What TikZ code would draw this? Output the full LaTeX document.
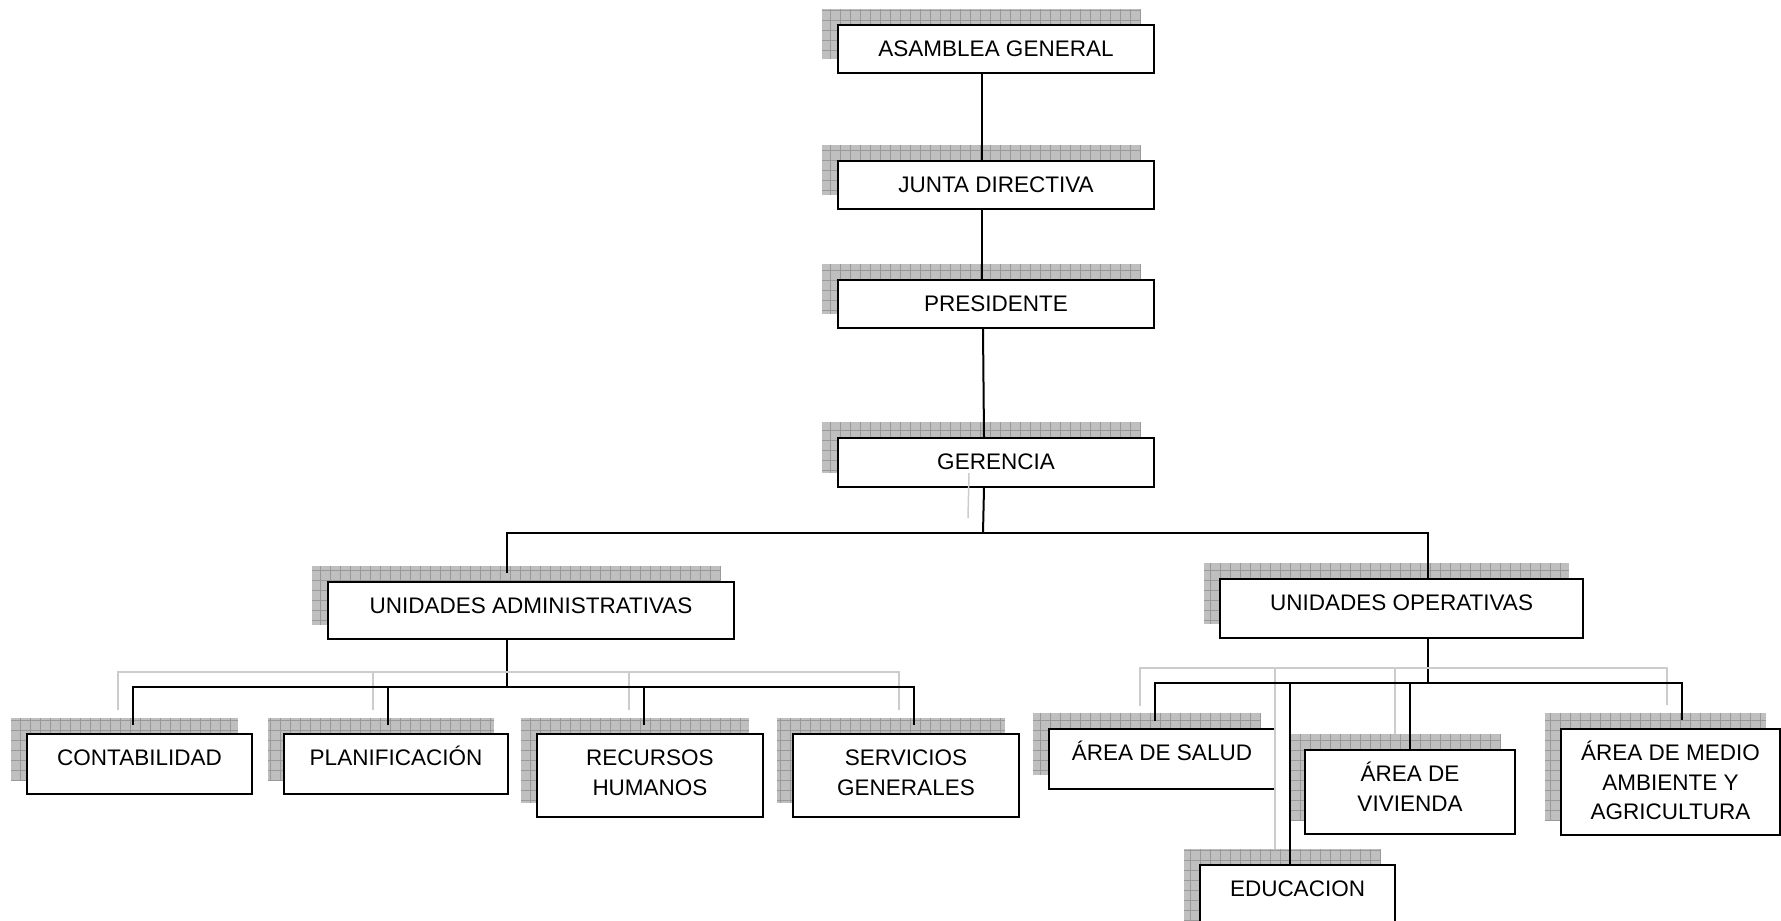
\documentclass[tikz,border=0pt]{standalone}
\usepackage{fontspec}
\setmainfont{Liberation Sans}
\usetikzlibrary{calc}
\pgfdeclarelayer{background}
\pgfsetlayers{background,main}

\tikzset{
	caja/.style={draw, fill=white, line width=2pt, anchor=north west, inner sep=0pt,
		align=center, text height=31.5pt, font=\fontsize{22.5pt}{29.5pt}\selectfont},
	dos lineas/.style={text height=61pt},
	tres lineas/.style={text height=90.5pt},
	linea/.style={line width=2pt},
	sombra/.style={fill=gray!50},
	rejilla/.style={gray!80, line width=0.7pt, step=10pt},
	lineagris/.style={gray!40, line width=1.5pt, transform canvas={shift={(-15pt,15pt)}}}
}

\begin{document}
\begin{tikzpicture}[x=1pt, y=-1pt]
	\useasboundingbox (0,0) rectangle (1781,921);

	% direccion
	\node[caja, minimum width=316pt, text depth=16.5pt] (asamblea) at (837,24) {ASAMBLEA GENERAL};
	\node[caja, minimum width=316pt, text depth=16.5pt] (junta) at (837,160) {JUNTA DIRECTIVA};
	\node[caja, minimum width=316pt, text depth=16.5pt] (presidente) at (837,279) {PRESIDENTE};
	\node[caja, minimum width=316pt, text depth=17.5pt] (gerencia) at (837,437) {GERENCIA};

	% unidades
	\node[caja, minimum width=406pt, text depth=25.5pt] (admin) at (327,581) {UNIDADES ADMINISTRATIVAS};
	\node[caja, minimum width=363pt, text depth=27.5pt] (oper) at (1219,578) {UNIDADES OPERATIVAS};

	\node[caja, minimum width=225pt, text depth=28.5pt] (contab) at (26,733) {CONTABILIDAD};
	\node[caja, minimum width=224pt, text depth=28.5pt] (planif) at (283,733) {PLANIFICACIÓN};
	\node[caja, dos lineas, minimum width=226pt, text depth=22pt] (recursos) at (536,733) {RECURSOS\\HUMANOS};
	\node[caja, dos lineas, minimum width=226pt, text depth=22pt] (servicios) at (792,733) {SERVICIOS\\GENERALES};

	\node[caja, minimum width=226pt, text depth=28.5pt] (salud) at (1048,728) {ÁREA DE SALUD};
	\node[caja, dos lineas, minimum width=210pt, text depth=23pt] (vivienda) at (1304,749) {ÁREA DE\\VIVIENDA};
	\node[caja, tres lineas, minimum width=219pt, text depth=15.5pt] (medio) at (1560,728) {ÁREA DE MEDIO\\AMBIENTE Y\\AGRICULTURA};
	\node[caja, minimum width=195pt, text depth=48.5pt] (educacion) at (1199,864) {EDUCACION};

	% sombras
	\begin{pgfonlayer}{background}
		\foreach \n in {asamblea,junta,presidente,gerencia,admin,oper,contab,planif,recursos,servicios,salud,vivienda,medio,educacion}{
			\fill[sombra] ([shift={(-15pt,15pt)}]\n.north west) rectangle ([shift={(-15pt,15pt)}]\n.south east);
			\draw[rejilla] ([shift={(-15pt,15pt)}]\n.north west) grid ([shift={(-15pt,15pt)}]\n.south east);
		}
	\end{pgfonlayer}

	\draw[linea] ([xshift=-14pt]asamblea.south) -- ([xshift=-14pt]junta.north);
	\draw[linea] ([xshift=-14pt]junta.south) -- ([xshift=-14pt]presidente.north);
	\draw[linea] ([xshift=-13pt]presidente.south) -- ([xshift=-12pt]gerencia.north);

	\coordinate (g-bar) at (983,533);
	\coordinate (g-izq) at (507,533);
	\coordinate (g-der) at (1428,533);
	\draw[linea] ([xshift=-12pt]gerencia.south) -- (g-bar);
	\draw[lineagris] ([xshift=-12pt]gerencia.south) -- (g-bar);
	\draw[linea] ($(admin.north -| g-izq)+(0,-8)$) -- (g-izq) -- (g-der) -- (oper.north -| g-der);

	% administrativas
	\coordinate (a-bar) at (507,687);
	\coordinate (c1) at ([xshift=-6.5pt,yshift=8pt]contab.north);
	\coordinate (c2) at ([xshift=-8pt,yshift=8pt]planif.north);
	\coordinate (c3) at ([xshift=-6pt,yshift=8pt]recursos.north);
	\coordinate (c4) at ([xshift=8pt,yshift=8pt]servicios.north);
	\draw[linea] (admin.south -| a-bar) -- (a-bar);
	\draw[lineagris] (c1) |- (a-bar) -| (c4);
	\draw[lineagris] (c2) -- (c2 |- a-bar) (c3) -- (c3 |- a-bar);
	\draw[linea] (c1) |- (a-bar) -| (c4);
	\draw[linea] (c2) -- (c2 |- a-bar) (c3) -- (c3 |- a-bar);

	% operativas
	\coordinate (o-bar) at (1428,683);
	\coordinate (d1) at ([xshift=-7pt,yshift=7pt]salud.north);
	\coordinate (d2) at ([xshift=-7.5pt]educacion.north);
	\coordinate (d3) at (vivienda.north);
	\coordinate (d4) at ([xshift=11.5pt,yshift=8pt]medio.north);
	\draw[linea] (oper.south -| o-bar) -- (o-bar);
	\draw[lineagris] (d1) |- (o-bar) -| (d4);
	\draw[lineagris] (d2) -- (d2 |- o-bar) (d3) -- (d3 |- o-bar);
	\draw[linea] (d1) |- (o-bar) -| (d4);
	\draw[linea] (d2) -- (d2 |- o-bar) (d3) -- (d3 |- o-bar);
\end{tikzpicture}
\end{document}
